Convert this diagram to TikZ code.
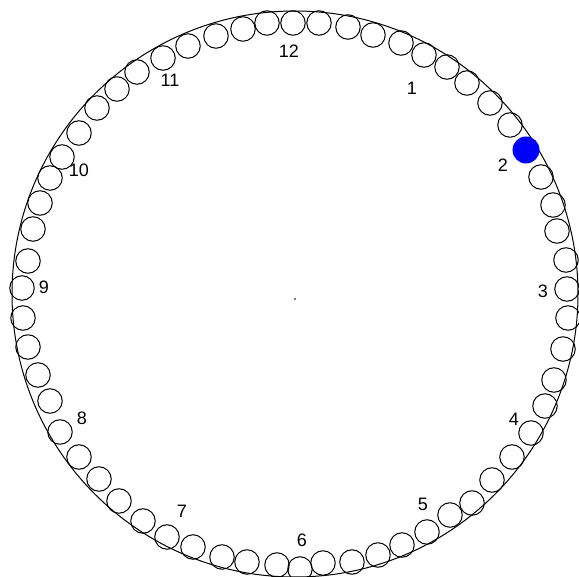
\documentclass[tikz,border=0pt]{standalone}
\usepackage{fontspec}
\setmainfont{Liberation Sans}
\begin{document}
\begin{tikzpicture}[x=1pt,y=-1pt,
  bead/.style={circle,draw=black,line width=1pt,minimum size=24.5pt,inner sep=0pt},
  hand/.style={circle,fill=blue,draw=none,minimum size=27pt,inner sep=0pt},
  numlab/.style={inner sep=0pt,font=\fontsize{18}{18}\selectfont}]
\useasboundingbox[fill=white] (0,0) rectangle (579,577);
\node[circle,draw=black,line width=1pt,minimum size=566pt,inner sep=0pt] (rim) at (295,294) {};
\fill (295,299) circle (0.9pt);
\coordinate (ctr) at (295,299);
\foreach \x/\y [count=\i] in {
 293/23, 319/23, 348/27, 373/35, 401/43, 424/55, 447/67, 467/83, 490/103, 510/125,
 541/177, 553/205, 557/231, 566/260, 567/289, 568/318, 563/349, 554/380, 545/406,
 531/433, 512/457, 492/480, 472/503, 450/515, 427/532, 402/545, 378/555, 352/562, 323/563,
 300/569, 277/565, 247/562, 222/557, 193/547, 167/537, 143/521, 119/501, 99/479, 79/457, 60/432,
 50/401, 38/375, 28/347, 23/318, 22/288, 28/261, 33/229, 40/203,
 50/178, 62/157, 79/133, 97/108, 117/89, 137/72, 163/58, 188/46, 216/36, 243/29, 267/23}
  \node[bead] (b\i) at (\x,\y) {};
\node[hand] (blue) at (526,150) {};
\node[numlab] (n12) at (289,51) {12};
\node[numlab] (n1) at (412,88) {1};
\node[numlab] (n2) at (503,165) {2};
\node[numlab] (n3) at (543,291) {3};
\node[numlab] (n4) at (514,419) {4};
\node[numlab] (n5) at (423,504) {5};
\node[numlab] (n6) at (302,540) {6};
\node[numlab] (n7) at (182,511) {7};
\node[numlab] (n8) at (82,418) {8};
\node[numlab] (n9) at (44,287) {9};
\node[numlab] (n10) at (79,170) {10};
\node[numlab] (n11) at (170,80) {11};
\end{tikzpicture}
\end{document}
